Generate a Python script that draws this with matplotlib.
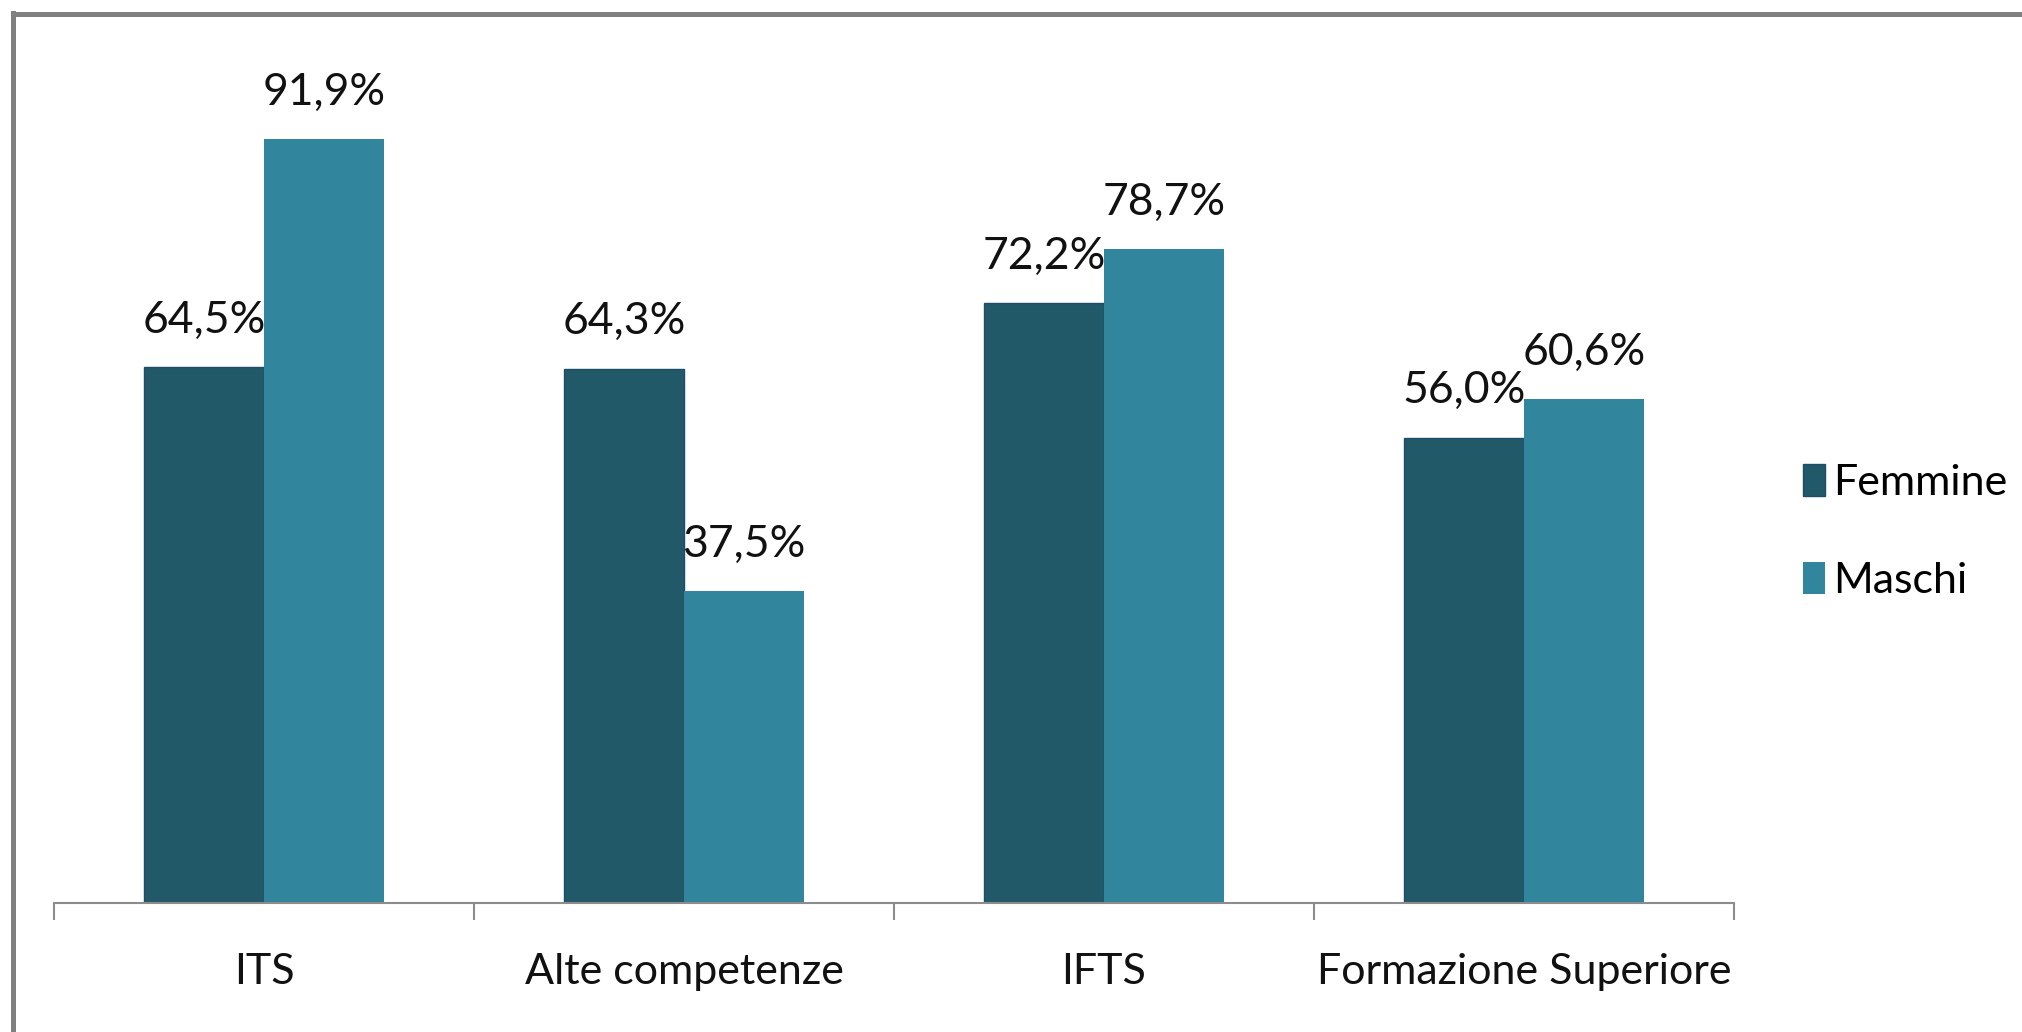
import matplotlib.pyplot as plt
import numpy as np
from matplotlib.lines import Line2D

# dati
categorie = ["ITS", "Alte competenze", "IFTS", "Formazione Superiore"]
femmine = [64.5, 64.3, 72.2, 56.0]
maschi = [91.9, 37.5, 78.7, 60.6]
serie = ["Femmine", "Maschi"]

col_f = "#215968"
col_m = "#31859c"
plt.rcParams["font.family"] = ["Lato", "DejaVu Sans"]

fig = plt.figure(figsize=(20.22, 10.32), dpi=100)
ax = fig.add_axes([54 / 2022, 1 - 903 / 1032, (1734 - 54) / 2022, (903 - 72) / 1032])

x = np.arange(len(categorie))
w = 0.285
b1 = ax.bar(x - w / 2, femmine, w, color=col_f, edgecolor="#1d4d6b", linewidth=1, label=serie[0])
b2 = ax.bar(x + w / 2, maschi, w, color=col_m, linewidth=0, label=serie[1])

fmt = lambda v: f"{v:.1f}%".replace(".", ",")
for bars, vals in ((b1, femmine), (b2, maschi)):
    ax.bar_label(bars, labels=[fmt(v) for v in vals], padding=19, fontsize=32, color="#111111")

ax.set_xlim(-0.5, len(categorie) - 0.5)
ax.set_ylim(0, 100)

# tacche ai confini delle categorie, etichette al centro
ax.set_xticks(np.arange(-0.5, len(categorie)), labels=[])
ax.set_xticks(x, labels=categorie, minor=True)
ax.tick_params(axis="x", which="major", length=12, width=1.5, color="#8c8c8c", direction="out")
ax.tick_params(axis="x", which="minor", length=0, pad=36, labelsize=31, labelcolor="#111111")
ax.set_yticks([])

for s in ("left", "top", "right"):
    ax.spines[s].set_visible(False)
ax.spines["bottom"].set_color("#8c8c8c")
ax.spines["bottom"].set_linewidth(1.5)

fig.legend(loc="center left", bbox_to_anchor=(1803 / 2022, 1 - 532 / 1032),
           frameon=False, fontsize=31, handlelength=0.5, handleheight=0.75,
           handletextpad=0.2, labelspacing=1.4, borderpad=0, borderaxespad=0)

# cornice grigia (solo sopra e a sinistra nell'immagine)
fig.add_artist(Line2D([13 / 2022, 1], [1 - 13.5 / 1032] * 2, transform=fig.transFigure,
                      color="#808080", lw=3.6))
fig.add_artist(Line2D([12.5 / 2022] * 2, [0, 1 - 13 / 1032], transform=fig.transFigure,
                      color="#808080", lw=3.6))

fig.savefig("out.png", dpi=100)
